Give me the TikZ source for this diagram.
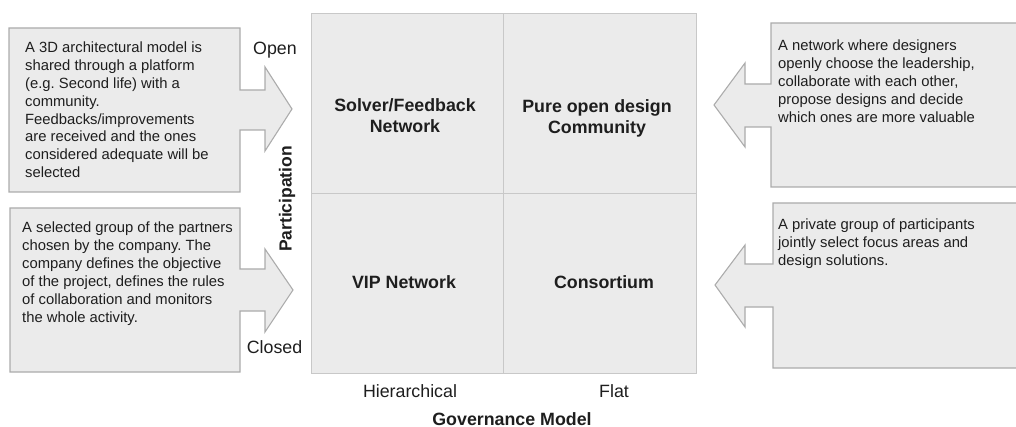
\documentclass[tikz,border=0pt]{standalone}
\usepackage{fontspec}
\setmainfont{Liberation Sans}
\usepackage{xcolor}
\definecolor{boxgray}{RGB}{235,235,235}
\definecolor{edgegray}{RGB}{172,172,172}
\definecolor{gridgray}{RGB}{200,200,200}
\definecolor{inkgray}{RGB}{30,30,30}
\frenchspacing

\begin{document}
\begin{tikzpicture}[x=1pt,y=-1pt,
    quad/.style={draw=gridgray, fill=boxgray, line width=1pt, minimum width=192.5pt, minimum height=179.5pt, inner sep=0pt},
    callout/.style={draw=edgegray, fill=boxgray, line width=1.1pt, line join=miter},
    note/.style={anchor=base west, align=left, inner sep=0pt, text=inkgray, font=\fontsize{14.8}{17.8}\selectfont},
    quadtitle/.style={anchor=base, align=center, inner sep=0pt, text=inkgray, font=\fontsize{17.8}{21}\selectfont\bfseries},
    axislabel/.style={anchor=base, inner sep=0pt, text=inkgray, font=\fontsize{17.8}{21}\selectfont}]
    \useasboundingbox (0,0) rectangle (1016,427);
    \clip (0,0) rectangle (1016,427);

    % Quadrants
    \node[quad] (q1) at (407.25,103.75) {};
    \node[quad] (q2) at (599.75,103.75) {};
    \node[quad] (q3) at (407.25,283.25) {};
    \node[quad] (q4) at (599.75,283.25) {};

    % Quadrant titles (placed at the baseline of their last line)
    \node[quadtitle] (solver) at (405,133) {Solver/Feedback\\Network};
    \node[quadtitle] (pure) at (597,134) {Pure open design\\Community};
    \node[quadtitle] (vip) at (404,288) {VIP Network};
    \node[quadtitle] (consortium) at (604,288) {Consortium};

    % Left callouts
    \draw[callout] (9,28) -- (240,28) -- (240,90) -- (265,90) -- (265,67) -- (292,109)
        -- (265,151) -- (265,130) -- (240,130) -- (240,192) -- (9,192) -- cycle;
    \draw[callout] (10,208) -- (240,208) -- (240,269) -- (265,269) -- (265,249) -- (293,290)
        -- (265,332) -- (265,311) -- (240,311) -- (240,372) -- (10,372) -- cycle;

    % Right callouts
    \draw[callout] (1022,23) -- (771,23) -- (771,84) -- (745,84) -- (745,63) -- (714,105)
        -- (745,147) -- (745,127) -- (771,127) -- (771,187) -- (1022,187) -- cycle;
    \draw[callout] (1022,203) -- (773,203) -- (773,264) -- (745,264) -- (745,245) -- (715,285)
        -- (745,327) -- (745,307) -- (773,307) -- (773,368) -- (1022,368) -- cycle;

    % Callout texts (placed at the baseline of their last line)
    \node[note] (solvernote) at (25,177.6) {A 3D architectural model is\\shared through a platform\\(e.g. Second life) with a\\community.\\Feedbacks/improvements\\are received and the ones\\considered adequate will be\\selected};
    \node[note] (vipnote) at (22,322) {A selected group of the partners\\chosen by the company. The\\company defines the objective\\of the project, defines the rules\\of collaboration and monitors\\the whole activity.};
    \node[note] (purenote) at (778,122.2) {A network where designers\\openly choose the leadership,\\collaborate with each other,\\propose designs and decide\\which ones are more valuable};
    \node[note] (consnote) at (778,265.6) {A private group of participants\\jointly select focus areas and\\design solutions.};

    % Axis labels
    \node[axislabel] (open) at (275,55) {Open};
    \node[axislabel] (closed) at (274.5,353) {Closed};
    \node[axislabel, anchor=center, rotate=90, font=\fontsize{17.5}{21}\selectfont\bfseries] (participation) at (287,199) {Participation};
    \node[axislabel] (hierarchical) at (410,397.5) {Hierarchical};
    \node[axislabel] (flat) at (614,397.5) {Flat};
    \node[axislabel, font=\fontsize{17.8}{21}\selectfont\bfseries] (governance) at (512,425) {Governance Model};
\end{tikzpicture}
\end{document}
